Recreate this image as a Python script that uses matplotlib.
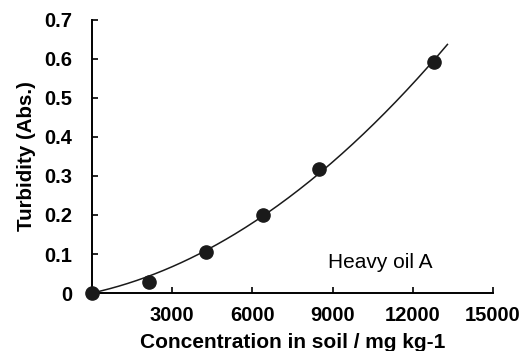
import numpy as np
import matplotlib
matplotlib.use("Agg")
import matplotlib.pyplot as plt

plt.rcParams['font.family'] = ['Liberation Sans', 'DejaVu Sans']

conc = [0, 2140, 4280, 6380, 8510, 12790]
turb = [0.0, 0.028, 0.105, 0.200, 0.318, 0.592]
x_ticks = [3000, 6000, 9000, 12000, 15000]
y_ticks = [0, 0.1, 0.2, 0.3, 0.4, 0.5, 0.6, 0.7]

# quadratic trend line forced through the origin
cx = np.array(conc, dtype=float)
A = np.column_stack([cx, cx ** 2])
a, b = np.linalg.lstsq(A, np.array(turb), rcond=None)[0]
xs = np.linspace(0, 13300, 200)
ys = a * xs + b * xs ** 2

fig = plt.figure(figsize=(5.24, 3.51), dpi=100)
ax = fig.add_axes([0.1756, 0.1652, 0.765, 0.778])

ax.plot(xs, ys, color='#1a1a1a', lw=1.1)
ax.plot(conc, turb, 'o', color='#1a1a1a', ms=9.5, clip_on=False, zorder=5)

ax.set_xlim(0, 15000)
ax.set_ylim(0, 0.7)
ax.set_xticks(x_ticks)
ax.set_yticks(y_ticks)
ax.set_yticklabels(['0' if v == 0 else f'{v:.1f}' for v in y_ticks])
ax.spines['top'].set_visible(False)
ax.spines['right'].set_visible(False)
for s in ['left', 'bottom']:
    ax.spines[s].set_linewidth(1.4)
ax.tick_params(direction='in', length=4, width=1.2, labelsize=14.5)
ax.tick_params(axis='x', pad=9)
ax.tick_params(axis='y', pad=14)
for lab in ax.get_xticklabels() + ax.get_yticklabels():
    lab.set_fontweight('bold')

ax.set_xlabel('Concentration in soil / mg kg-1', fontsize=15, fontweight='bold', labelpad=6)
ax.set_ylabel('Turbidity (Abs.)', fontsize=14.8, fontweight='bold', labelpad=6)
ax.text(0.72, 0.11, 'Heavy oil A', transform=ax.transAxes, ha='center', va='center', fontsize=15)

fig.savefig('out.png', dpi=100)
